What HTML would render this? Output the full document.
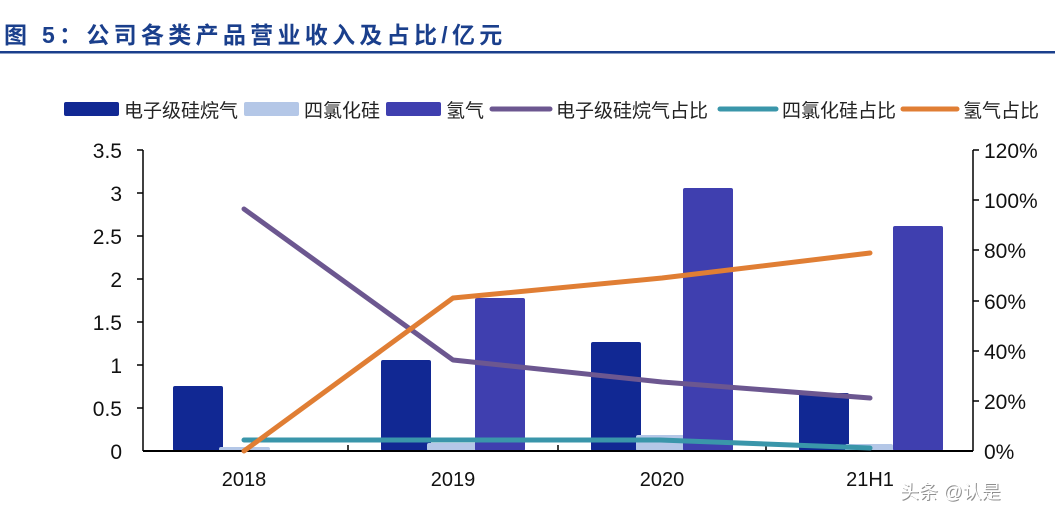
<!DOCTYPE html>
<html><head><meta charset="utf-8"><style>
html,body{margin:0;padding:0;background:#fff;}
svg{display:block;}
text{font-family:"Liberation Sans","Noto Sans CJK SC",sans-serif;}
</style></head><body>
<svg width="1055" height="521" viewBox="0 0 1055 521" xmlns="http://www.w3.org/2000/svg">
<rect width="1055" height="521" fill="#fff"/>
<text x="4" y="43" font-size="23" font-weight="bold" fill="#1a3f8c" letter-spacing="4.3">图 5：公司各类产品营业收入及占比/亿元</text>
<rect x="0" y="51" width="1055" height="2.5" fill="#1a3f8c"/>
<g font-size="19" fill="#222">
<rect x="64" y="102" width="55" height="14" rx="2" fill="#112893"/>
<text x="124" y="117">电子级硅烷气</text>
<rect x="244" y="102" width="55" height="14" rx="2" fill="#b4c7e7"/>
<text x="304" y="117">四氯化硅</text>
<rect x="386" y="102" width="55" height="14" rx="2" fill="#3f3faf"/>
<text x="446" y="117">氢气</text>
<line x1="492" y1="109" x2="550" y2="109" stroke="#6c5790" stroke-width="5" stroke-linecap="round"/>
<text x="556" y="117">电子级硅烷气占比</text>
<line x1="720" y1="109" x2="776" y2="109" stroke="#3a96aa" stroke-width="5" stroke-linecap="round"/>
<text x="782" y="117">四氯化硅占比</text>
<line x1="903" y1="109" x2="957" y2="109" stroke="#e07e34" stroke-width="5" stroke-linecap="round"/>
<text x="963" y="117">氢气占比</text>
</g>
<line x1="143" y1="150" x2="143" y2="451" stroke="#000" stroke-width="1.5"/>
<line x1="973" y1="150" x2="973" y2="451" stroke="#000" stroke-width="1.5"/>
<g stroke="#000" stroke-width="1.5">
<line x1="137" y1="150" x2="143" y2="150"/><line x1="137" y1="193" x2="143" y2="193"/>
<line x1="137" y1="236" x2="143" y2="236"/><line x1="137" y1="279" x2="143" y2="279"/>
<line x1="137" y1="322" x2="143" y2="322"/><line x1="137" y1="365" x2="143" y2="365"/>
<line x1="137" y1="408" x2="143" y2="408"/>
<line x1="973" y1="150" x2="979" y2="150"/><line x1="973" y1="200" x2="979" y2="200"/>
<line x1="973" y1="250" x2="979" y2="250"/><line x1="973" y1="301" x2="979" y2="301"/>
<line x1="973" y1="351" x2="979" y2="351"/><line x1="973" y1="401" x2="979" y2="401"/>
<line x1="348" y1="445" x2="348" y2="451"/><line x1="558" y1="445" x2="558" y2="451"/><line x1="766" y1="445" x2="766" y2="451"/>
</g>
<g font-size="21" fill="#111" text-anchor="end">
<text x="122" y="158">3.5</text><text x="122" y="201">3</text><text x="122" y="244">2.5</text>
<text x="122" y="287">2</text><text x="122" y="330">1.5</text><text x="122" y="373">1</text>
<text x="122" y="416">0.5</text><text x="122" y="459">0</text>
</g>
<g font-size="21" fill="#111">
<text x="984" y="158">120%</text><text x="984" y="208">100%</text><text x="984" y="258">80%</text>
<text x="984" y="309">60%</text><text x="984" y="359">40%</text><text x="984" y="409">20%</text>
<text x="984" y="459">0%</text>
</g>
<g font-size="20" fill="#111" text-anchor="middle">
<text x="244" y="486">2018</text><text x="453" y="486">2019</text><text x="662" y="486">2020</text><text x="870" y="486">21H1</text>
</g>
<g>
<rect x="173" y="386" width="50" height="65" rx="2" fill="#112893"/>
<rect x="219" y="447" width="51" height="4" rx="2" fill="#b4c7e7"/>
<rect x="381" y="360" width="50" height="91" rx="2" fill="#112893"/>
<rect x="427" y="443" width="50" height="8" rx="2" fill="#b4c7e7"/>
<rect x="475" y="298" width="50" height="153" rx="2" fill="#3f3faf"/>
<rect x="591" y="342" width="50" height="109" rx="2" fill="#112893"/>
<rect x="636" y="435" width="48" height="16" rx="2" fill="#b4c7e7"/>
<rect x="683" y="188" width="50" height="263" rx="2" fill="#3f3faf"/>
<rect x="799" y="393" width="50" height="58" rx="2" fill="#112893"/>
<rect x="845" y="444" width="48" height="7" rx="2" fill="#b4c7e7"/>
<rect x="893" y="226" width="50" height="225" rx="2" fill="#3f3faf"/>
</g>
<line x1="143" y1="451" x2="973" y2="451" stroke="#000" stroke-width="2"/>
<g fill="none" stroke-width="5" stroke-linecap="round" stroke-linejoin="round">
<polyline points="244,209 453,360 662,382 870,398" stroke="#6c5790"/>
<polyline points="244,440 453,440 660,440 870,448" stroke="#3a96aa"/>
<polyline points="244,451 453,298 662,278 870,253" stroke="#e07e34"/>
</g>
<text x="901" y="499" font-size="19" fill="#444" opacity="0.6">头条 @认是</text>
<text x="900" y="498" font-size="19" fill="#fff">头条 @认是</text>
</svg>
</body></html>
